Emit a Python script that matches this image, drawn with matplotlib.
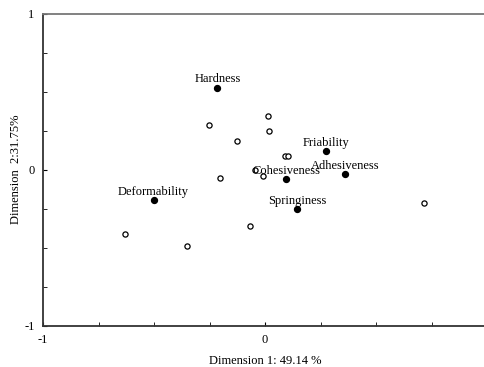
import matplotlib.pyplot as plt
import numpy as np

plt.rcParams['font.family'] = ['Liberation Serif', 'DejaVu Serif']

# attributes (filled dots)
attr_names = ["Hardness", "Friability", "Adhesiveness", "Cohesiveness", "Springiness", "Deformability"]
attr_x = [-0.214, 0.276, 0.36, 0.095, 0.145, -0.502]
attr_y = [0.526, 0.122, -0.026, -0.06, -0.252, -0.192]

# samples (open dots)
samp_x = [0.013, -0.253, 0.017, -0.127, 0.092, 0.104, -0.043, -0.01, -0.204, 0.714, -0.067, -0.35, -0.63]
samp_y = [0.346, 0.284, 0.246, 0.181, 0.09, 0.09, 0.0, -0.038, -0.051, -0.214, -0.363, -0.485, -0.41]

xlabel = "Dimension 1: 49.14 %"
ylabel = "Dimension  2:31.75%"

fig = plt.figure(figsize=(4.85, 3.67), dpi=100)
ax = fig.add_axes([43/485, 41/367, 444/485, 312.5/367])

ax.scatter(samp_x, samp_y, s=14, facecolors='white', edgecolors='black', linewidths=0.9, zorder=3)
ax.scatter(attr_x, attr_y, s=18, color='black', zorder=4)
for name, x, y in zip(attr_names, attr_x, attr_y):
    ax.annotate(name, (x, y), xytext=(0, 1.5), textcoords='offset points',
                ha='center', va='bottom', fontsize=9, zorder=5)

ax.set_xlim(-1, 1)
ax.set_ylim(-1, 1)
ax.set_xticks([-1, 0])
ax.set_xticklabels(['-1', '0'])
ax.set_yticks([-1, 0, 1])
ax.set_yticklabels(['-1', '0', '1'])
ax.set_xticks(np.arange(-1, 1.01, 0.25), minor=True)
ax.set_yticks(np.arange(-1, 1.01, 0.25), minor=True)
ax.tick_params(which='both', direction='in', labelsize=9)
ax.tick_params(which='major', length=3)
ax.tick_params(which='minor', length=3)
ax.tick_params(axis='x', pad=6)
ax.tick_params(axis='y', pad=6)

ax.spines['right'].set_visible(False)
ax.spines['top'].set_color('#777777')
for s in ['left', 'bottom', 'top']:
    ax.spines[s].set_linewidth(1.3)
ax.spines['left'].set_color('#333333')
ax.spines['bottom'].set_color('#333333')

ax.set_xlabel(xlabel, fontsize=9, labelpad=6)
ax.set_ylabel(ylabel, fontsize=9, labelpad=2)

fig.savefig('out.png', dpi=100)
